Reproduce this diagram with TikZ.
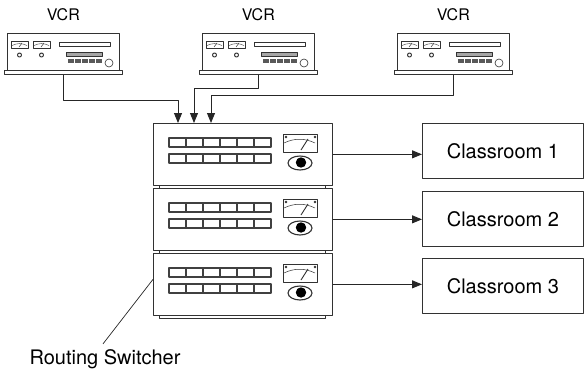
\documentclass[tikz,border=0pt]{standalone}
\usepackage{fontspec}
\setmainfont{TeX Gyre Heros}
\usetikzlibrary{arrows.meta,calc}
\definecolor{cline}{RGB}{50,50,50}
\tikzset{
  px/.style={x=1pt,y=-1pt,line join=round},
  vcrbox/.style={draw=cline,fill=white,line width=0.6pt,inner sep=0pt,anchor=north west,minimum width=112pt,minimum height=37pt},
  panel/.style={draw=cline,fill=white,line width=0.7pt,inner sep=0pt,anchor=north west,minimum width=179pt,minimum height=62pt},
  room/.style={draw=cline,line width=0.8pt,inner sep=0pt,anchor=north west,minimum width=161pt,minimum height=55pt,font=\fontsize{20}{24}\selectfont},
  part/.style={draw=cline,fill=white,line width=0.6pt},
  key/.style={draw=black!75,fill=white,line width=1.6pt},
  wire/.style={draw=black!85,line width=0.9pt,-{Triangle[length=10pt,width=8pt]}},
  lead/.style={draw=black!85,line width=0.7pt},
}

\begin{document}
\begin{tikzpicture}[px]
  \useasboundingbox (0,0) rectangle (585,375);
  % tape decks
  \foreach \i in {1,2,3} {
    \node[vcrbox] (vcr\i) at ({7+195*(\i-1)},33) {};
    \node[font=\fontsize{16}{18}\selectfont] (tag\i) at ($(vcr\i.north)+(0,-18)$) {VCR};
    \begin{scope}[shift={(vcr\i.north west)}]
      \draw[part] (-3,37) rectangle (115,41);
      \foreach \m in {4,26} {
        \draw[part] (\m,8) rectangle ++(17,7);
        \draw[cline,line width=0.4pt] (\m+1,12.5) .. controls (\m+6,10) and (\m+11,10) .. (\m+16,12.5);
        \draw[cline,line width=0.5pt] (\m+8,14) -- (\m+11,10);
        \draw[cline,line width=1pt] (\m+8.5,22) circle (2);
      }
      \draw[cline,line width=1pt] (52,9) rectangle (103,13);
      \draw[cline,fill=black!35,line width=0.5pt] (59,19) rectangle (95,23);
      \foreach \k in {0,...,4} \fill[black!65] ({61+6.9*\k},26) rectangle ++(6,4);
      \draw[cline,line width=0.6pt] (102,30) circle (4);
    \end{scope}
    \coordinate (out\i) at ($(vcr\i.south)+(0,4)$);
  }
  % routing switcher stack
  \foreach \i in {1,2,3} {
    \node[panel] (sw\i) at (153,{123+65*(\i-1)}) {};
    \begin{scope}[shift={(sw\i.north west)}]
      \draw[part] (6,62) rectangle (172,65);
      \foreach \c in {0,...,5} \foreach \r in {15,31}
        \draw[key] ({16+17*\c},\r) rectangle ++(17,9);
      \draw[part] (130,11) rectangle (164,29);
      \draw[cline,line width=0.5pt] (131,20) .. controls (141,15) and (152,15) .. (162,20);
      \draw[cline,line width=0.9pt] (148,27) -- (155,16);
      \fill[cline] (133,14) circle (1.4) (162,14) circle (1.4);
      \draw[cline,line width=1.1pt] (147,40) ellipse (12 and 7);
      \fill[black] (148,39.5) circle (5.2);
    \end{scope}
  }
  \node[room] (cr1) at (422,123) {Classroom 1};
  \node[room] (cr2) at (422,191) {Classroom 2};
  \node[room] (cr3) at (422,258) {Classroom 3};
  \coordinate (in1) at ($(sw1.north west)+(25,0)$);
  \coordinate (in2) at ($(sw1.north west)+(41,0)$);
  \coordinate (in3) at ($(sw1.north west)+(58,0)$);
  \draw[wire] (out1) -- ++(0,26) -| (in1);
  \draw[wire] (out2) -- ++(0,14) -| (in2);
  \draw[wire] (out3) -- ++(0,21) -| (in3);
  \foreach \i in {1,2,3}
    \draw[wire] (sw\i.east) -- (sw\i.east -| cr\i.west);
  \node[anchor=base,inner sep=1pt,font=\fontsize{20}{24}\selectfont] (rs) at (105,364) {Routing Switcher};
  \draw[lead] ([shift={(-2,-4)}]rs.north) -- ([yshift=5pt]sw3.west);
\end{tikzpicture}
\end{document}
